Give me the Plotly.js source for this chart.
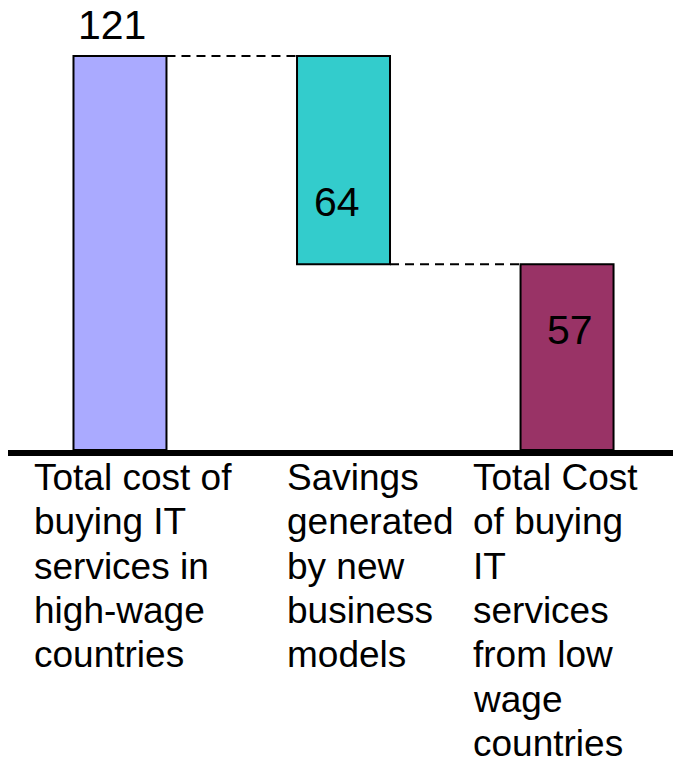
<!DOCTYPE html>
<html>
<head>
<meta charset="utf-8">
<script src="https://cdn.plot.ly/plotly-3.0.1.min.js"></script>
<style>html,body{margin:0;padding:0;background:#fff;}#chart{width:673px;height:757px;}</style>
</head>
<body>
<div id="chart"></div>
<script>
// Data
const categories = [
  ["Total cost of", "buying IT", "services in", "high-wage", "countries"],
  ["Savings", "generated", "by new", "business", "models"],
  ["Total Cost", "of buying", "IT", "services", "from low", "wage", "countries"]
];
const values = [121, 64, 57];          // bar heights
const bases = [0, 57, 0];              // bar bases (waterfall)
const valueLabels = ["121", "64", "57"];
const colors = ["#AAAAFF", "#33CCCC", "#993366"];

const xs = [0, 1, 2];
const barW = 0.416;
const FONT = "Liberation Sans, Arial, sans-serif";

const traces = xs.map((x, i) => ({
  type: "bar",
  x: [x],
  y: [values[i]],
  base: [bases[i]],
  width: [barW],
  marker: {color: colors[i], line: {color: "#000", width: 2}},
  hoverinfo: "none",
  showlegend: false
}));

// dashed connectors (from the top of one step to the next)
const tops = values.map((v, i) => v + bases[i]);
traces.push({
  type: "scatter", mode: "lines",
  x: [xs[0] + barW / 2, xs[1] - barW / 2],
  y: [tops[0], tops[0]],
  line: {color: "#000", width: 2, dash: "9px,6px"},
  hoverinfo: "none", showlegend: false
});
traces.push({
  type: "scatter", mode: "lines",
  x: [xs[1] + barW / 2, xs[2] - barW / 2],
  y: [bases[1], bases[1]],
  line: {color: "#000", width: 2, dash: "9px,6px"},
  hoverinfo: "none", showlegend: false
});

const annotations = [];
// value labels
const valXShift = [-8, -7, 3];
const valYShift = [31, -146, -66];
xs.forEach((x, i) => {
  annotations.push({
    x: x, xref: "x", y: tops[i], yref: "y",
    xanchor: "center", yanchor: "middle",
    xshift: valXShift[i], yshift: valYShift[i],
    showarrow: false, text: valueLabels[i],
    font: {family: FONT, size: 41, color: "#000"}
  });
});
// category labels, one annotation per line
const labelShift = [-41, -12, -50];
const labelTop = [-5, -5, -5];
const lineGap = 44.3;
xs.forEach((x, i) => {
  categories[i].forEach((line, k) => {
    annotations.push({
      x: x - barW / 2, xref: "x",
      y: 0, yref: "paper",
      xanchor: "left", yanchor: "top",
      align: "left",
      xshift: labelShift[i], yshift: labelTop[i] - k * lineGap,
      showarrow: false,
      text: line,
      font: {family: FONT, size: 37, color: "#000"}
    });
  });
});

const layout = {
  width: 673, height: 757,
  margin: {l: 8, r: 0, t: 10, b: 307},
  paper_bgcolor: "#fff", plot_bgcolor: "#fff",
  barmode: "overlay",
  xaxis: {range: [-0.501, 2.474], showgrid: false, zeroline: false, showticklabels: false,
          ticks: "", showline: true, linecolor: "#000", linewidth: 6, fixedrange: true},
  yaxis: {range: [0, 135.1], showgrid: false, zeroline: false, showticklabels: false,
          ticks: "", showline: false, fixedrange: true},
  annotations: annotations,
  font: {family: FONT}
};

Plotly.newPlot("chart", traces, layout, {displayModeBar: false, staticPlot: true});
</script>
</body>
</html>
